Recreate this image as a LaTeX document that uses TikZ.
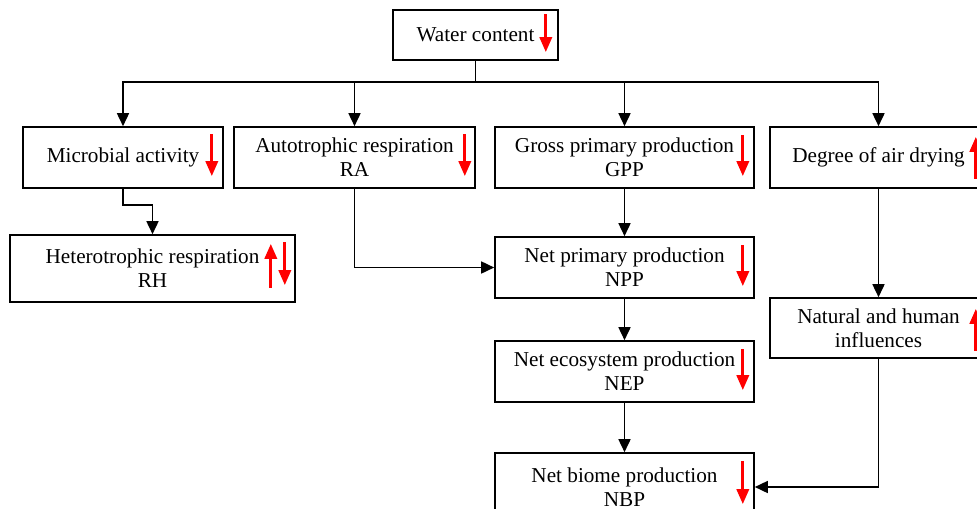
\documentclass[tikz,border=0pt]{standalone}
\usepackage{fontspec}
\setmainfont{Liberation Serif}
\usepackage{tikz}
\usetikzlibrary{arrows.meta}

\begin{document}
\begin{tikzpicture}[x=0.5pt, y=-0.5pt,
      box/.style={draw, line width=0.8pt, align=center, inner sep=0pt,
                  font=\fontsize{10.6}{12}\selectfont },
      cell/.style={box, minimum height=30.5pt },
      link/.style={line width=0.8pt, -{Triangle[length=6.5pt,width=6pt]} },
      redmark/.style={red, line width=1.6pt, -{Triangle[length=7.5pt,width=6pt]} }, ]

    \useasboundingbox (0,0) rectangle (977,508);

    % boxes
    \node[box, minimum width=82.5pt, minimum height=25pt] (water) at (475.5,35) {Water content};

    \node[cell, minimum width=100pt  ] (micro) at (123,157.5)   {Microbial activity};
    \node[cell, minimum width=120.5pt] (ra)    at (354.5,157.5) {Autotrophic respiration\\ RA};
    \node[cell, minimum width=129.5pt] (gpp)   at (624.5,157.5) {Gross primary production\\ GPP};
    \node[cell, minimum width=108.5pt] (air)   at (878.5,157.5) {Degree of air drying};

    \node[box, minimum width=142.5pt, minimum height=33.5pt] (hetero) at (152.5,268.5)
          {Heterotrophic respiration\\ RH};

    \node[cell, minimum width=129.5pt] (npp) at (624.5,267.5) {Net primary production\\ NPP};
    \node[cell, minimum width=129.5pt] (nep) at (624.5,371.5) {Net ecosystem production\\ NEP};
    \node[box,  minimum width=129.5pt, minimum height=34pt] (nbp) at (624.5,487)
          {Net biome production\\ NBP};
    \node[box,  minimum width=108.5pt, minimum height=30pt] (natural) at (878.5,328)
          {Natural and human\\ influences};

    % connectors
    \coordinate (split) at (475.5,82);
    \draw[line width=0.8pt] (water) -- (split);
    \foreach \n in {micro,ra,gpp,air}
      \draw[link] (split) -| (\n);

    \draw[link] (micro.south) -- ++(0,16) -| (hetero);
    \draw[link] (ra) |- (npp);
    \draw[link] (gpp) -- (npp);
    \draw[link] (npp) -- (nep);
    \draw[link] (nep) -- (nbp);
    \draw[link] (air) -- (natural);
    \draw[link] (natural) |- (nbp);

    % trend marks
    \draw[redmark] ([xshift=-6.5pt,yshift=-2.5pt]water.north east) --+ (0,38);
    \draw[redmark] ([xshift=-6pt,yshift=-4pt]micro.north east)    --+ (0,42);
    \draw[redmark] ([xshift=-5.5pt,yshift=-4pt]ra.north east)     --+ (0,42);
    \foreach \n in {gpp,npp,nep}
      \draw[redmark] ([xshift=-6pt,yshift=-4.5pt]\n.north east) --+ (0,41);
    \draw[redmark] ([xshift=-6pt,yshift=-4.5pt]nbp.north east)    --+ (0,43);
    \draw[redmark] ([xshift=-6pt,yshift=5pt]air.south east)       --+ (0,-42);
    \draw[redmark] ([xshift=-6pt,yshift=4pt]natural.south east)   --+ (0,-42);
    \draw[redmark] ([xshift=-12.5pt,yshift=7.5pt]hetero.south east) --+ (0,-44);
    \draw[redmark] ([xshift=-5.5pt,yshift=-4pt]hetero.north east)   --+ (0,43);

\end{tikzpicture}
\end{document}
